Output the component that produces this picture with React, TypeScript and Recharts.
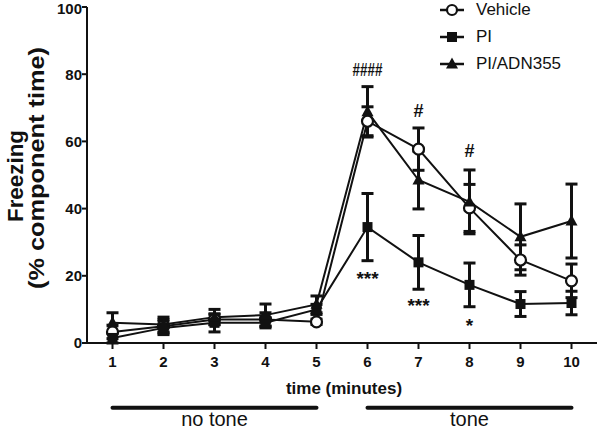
import {
  LineChart,
  Line,
  XAxis,
  YAxis,
  ErrorBar,
  Legend,
  ReferenceLine,
  ReferenceDot,
  Customized,
} from "recharts";

// freezing (% component time) per minute, mean and SEM
const minutes = [1, 2, 3, 4, 5, 6, 7, 8, 9, 10];
const vehicle = [3.3, 5, 7, 7, 6.3, 66, 57.7, 40.2, 24.7, 18.5];
const vehicleErr = [2, 2, 1.5, 2, 0.8, 4.3, 6.3, 7, 4.5, 5];
const pi = [1.5, 4.5, 6, 6, 10, 34.5, 24, 17.3, 11.6, 11.9];
const piErr = [1.5, 2, 2.7, 1.5, 1.5, 10, 8, 6.5, 3.7, 3.5];
const adn = [6, 5.5, 7.7, 8.3, 11.5, 68.8, 48.5, 42, 31.6, 36.3];
const adnErr = [3, 2.2, 2.3, 3.3, 2.5, 7.5, 8.6, 9.5, 9.8, 11];

const yTicks = [0, 20, 40, 60, 80, 100];

// significance marks (x minute, y baseline value)
const hashX = [6, 7, 8];
const hashY = [79.5, 67.3, 55.4];
const hashText = ["####", "#", "#"];
const starX = [6, 7, 8];
const starY = [17.3, 9.2, 3.3];
const starText = ["***", "***", "*"];

// tone bars below the axis
const phaseStart = [1, 6];
const phaseEnd = [5, 10];
const phaseLabel = ["no tone", "tone"];
const phaseBarY = -19.3;
const phaseTextY = -24.6;

const data = minutes.map((m, i) => ({
  minute: m,
  vehicle: vehicle[i],
  vehicleErr: vehicleErr[i],
  pi: pi[i],
  piErr: piErr[i],
  adn: adn[i],
  adnErr: adnErr[i],
}));

const INK = "#111";
const FONT = "'Liberation Sans', Arial, sans-serif";

const Square = (p: any) => (
  <rect key={`sq-${p.index}`} x={p.cx - 5} y={p.cy - 5} width={10} height={10} fill={INK} />
);

const Triangle = (p: any) => (
  <polygon
    key={`tr-${p.index}`}
    points={`${p.cx},${p.cy - 6.5} ${p.cx + 6},${p.cy + 4.5} ${p.cx - 6},${p.cy + 4.5}`}
    fill={INK}
  />
);

function LegendIcon({ kind }: { kind: string }) {
  return (
    <svg width={28} height={14} style={{ display: "block" }}>
      <line x1={2} y1={7} x2={26} y2={7} stroke={INK} strokeWidth={2.5} />
      {kind === "vehicle" && <circle cx={14} cy={7} r={5} fill="#fff" stroke={INK} strokeWidth={2.2} />}
      {kind === "pi" && <rect x={9} y={2} width={10} height={10} fill={INK} />}
      {kind === "adn" && <polygon points="14,0.5 20,11.5 8,11.5" fill={INK} />}
    </svg>
  );
}

const legendRows = [
  { kind: "vehicle", name: "Vehicle" },
  { kind: "pi", name: "PI" },
  { kind: "adn", name: "PI/ADN355" },
];

function LegendContent() {
  return (
    <div style={{ fontFamily: FONT, fontSize: 17, color: INK }}>
      {legendRows.map((r) => (
        <div key={r.kind} style={{ display: "flex", alignItems: "center", height: 27 }}>
          <LegendIcon kind={r.kind} />
          <span style={{ marginLeft: 10 }}>{r.name}</span>
        </div>
      ))}
    </div>
  );
}

function AxisTitles() {
  return (
    <g fill={INK} fontFamily={FONT} fontWeight="bold">
      <text
        transform="translate(23,176) rotate(-90)"
        textAnchor="middle"
        fontSize={22}
        textLength={92}
        lengthAdjust="spacingAndGlyphs"
      >
        Freezing
      </text>
      <text
        transform="translate(44,168) rotate(-90)"
        textAnchor="middle"
        fontSize={22}
        textLength={242}
        lengthAdjust="spacingAndGlyphs"
      >
        (% component time)
      </text>
      <text x={344} y={394} textAnchor="middle" fontSize={17}>
        time (minutes)
      </text>
    </g>
  );
}

const markText = (text: string, size: number, bold: boolean, stretch?: number) => (p: any) => (
  <text
    x={p.cx}
    y={p.cy}
    textAnchor="middle"
    fontSize={size}
    fontWeight={bold ? "bold" : "normal"}
    fontFamily={FONT}
    fill={INK}
    textLength={stretch}
    lengthAdjust={stretch ? "spacingAndGlyphs" : undefined}
  >
    {text}
  </text>
);

export default function App() {
  return (
    <div style={{ position: "absolute", left: 0, top: 0, width: 600, height: 430, background: "#fff" }}>
      <LineChart
        width={600}
        height={430}
        data={data}
        margin={{ top: 7, right: 3, bottom: 57, left: 27 }}
        style={{ fontFamily: FONT }}
      >
        <XAxis
          dataKey="minute"
          type="number"
          domain={[0.5, 10.5]}
          ticks={minutes}
          height={30}
          tickSize={6}
          tickMargin={7}
          stroke={INK}
          strokeWidth={2}
          tick={{ fontSize: 15, fontWeight: "bold", fill: INK }}
        />
        <YAxis
          type="number"
          domain={[0, 100]}
          ticks={yTicks}
          width={60}
          tickSize={5}
          tickMargin={0}
          stroke={INK}
          strokeWidth={2}
          tick={{ fontSize: 15, fontWeight: "bold", fill: INK }}
        />
        <Legend
          layout="vertical"
          align="center"
          verticalAlign="middle"
          content={<LegendContent />}
          wrapperStyle={{ top: -4, left: 438, width: 160 }}
        />
        {phaseStart.map((s, i) => (
          <ReferenceLine
            key={`bar-${i}`}
            segment={[
              { x: s, y: phaseBarY },
              { x: phaseEnd[i], y: phaseBarY },
            ]}
            ifOverflow="visible"
            stroke={INK}
            strokeWidth={4}
            strokeLinecap="round"
          />
        ))}
        {phaseStart.map((s, i) => (
          <ReferenceDot
            key={`lab-${i}`}
            x={(s + phaseEnd[i]) / 2}
            y={phaseTextY}
            ifOverflow="visible"
            shape={markText(phaseLabel[i], 20, false)}
          />
        ))}
        <Line
          dataKey="vehicle"
          stroke={INK}
          strokeWidth={2}
          isAnimationActive={false}
          dot={{ r: 5.5, fill: "#fff", stroke: INK, strokeWidth: 2.2 }}
        >
          <ErrorBar dataKey="vehicleErr" width={6} stroke={INK} strokeWidth={3} isAnimationActive={false} />
        </Line>
        <Line dataKey="pi" stroke={INK} strokeWidth={2} isAnimationActive={false} dot={Square}>
          <ErrorBar dataKey="piErr" width={6} stroke={INK} strokeWidth={3} isAnimationActive={false} />
        </Line>
        <Line dataKey="adn" stroke={INK} strokeWidth={2} isAnimationActive={false} dot={Triangle}>
          <ErrorBar dataKey="adnErr" width={6} stroke={INK} strokeWidth={3} isAnimationActive={false} />
        </Line>
        {hashX.map((x, i) => (
          <ReferenceDot
            key={`h-${i}`}
            x={x}
            y={hashY[i]}
            ifOverflow="visible"
            shape={markText(hashText[i], 18, true, hashText[i].length > 1 ? 30 : undefined)}
          />
        ))}
        {starX.map((x, i) => (
          <ReferenceDot
            key={`s-${i}`}
            x={x}
            y={starY[i]}
            ifOverflow="visible"
            shape={markText(starText[i], 19, true)}
          />
        ))}
        <Customized component={<AxisTitles />} />
      </LineChart>
    </div>
  );
}
